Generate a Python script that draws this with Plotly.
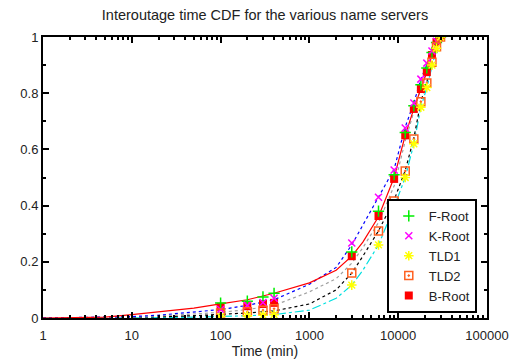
import plotly.graph_objects as go

# ---- data ----
marker_t_low = [100, 200, 300, 400]
marker_t_high = [3000, 6000, 9000, 12000, 15000, 18000, 21000, 24000, 27000, 30000]
marker_t = marker_t_low + marker_t_high

f_root = [0.053, 0.06, 0.075, 0.088, 0.235, 0.38, 0.51, 0.66, 0.755, 0.83, 0.89, 0.945, 0.98, 1.0]
k_root = [0.03, 0.045, 0.055, 0.07, 0.267, 0.43, 0.527, 0.676, 0.765, 0.85, 0.907, 0.95, 0.985, 1.0]
tld1 = [0.005, 0.008, 0.01, 0.012, 0.117, 0.26, 0.395, 0.50, 0.62, 0.75, 0.82, 0.90, 0.96, 1.0]
tld2 = [0.018, 0.022, 0.028, 0.033, 0.16, 0.31, 0.416, 0.523, 0.637, 0.77, 0.836, 0.91, 0.965, 1.0]
b_root = [0.04, 0.042, 0.05, 0.054, 0.22, 0.363, 0.495, 0.65, 0.744, 0.815, 0.875, 0.936, 0.982, 1.0]

line_t = [1, 5, 10, 20, 50, 100, 200, 400, 1000, 2000, 3000, 4000, 6000, 9000, 12000, 15000, 18000, 21000, 24000, 27000, 30000]
red_line = [0, 0.003, 0.012, 0.022, 0.035, 0.05, 0.065, 0.088, 0.125, 0.17, 0.22, 0.27, 0.36, 0.5, 0.65, 0.745, 0.815, 0.875, 0.936, 0.98, 1.0]
blue_line = [0, 0.002, 0.005, 0.01, 0.02, 0.03, 0.045, 0.065, 0.12, 0.18, 0.26, 0.33, 0.43, 0.53, 0.68, 0.765, 0.85, 0.9, 0.95, 0.985, 1.0]
gray_line = [0, 0.001, 0.003, 0.007, 0.013, 0.02, 0.03, 0.045, 0.093, 0.14, 0.195, 0.25, 0.34, 0.47, 0.63, 0.74, 0.82, 0.88, 0.94, 0.975, 1.0]
black_line = [0, 0.001, 0.002, 0.004, 0.008, 0.012, 0.018, 0.025, 0.05, 0.1, 0.16, 0.22, 0.31, 0.42, 0.525, 0.64, 0.77, 0.84, 0.91, 0.965, 1.0]
cyan_line = [0, 0, 0, 0.001, 0.003, 0.005, 0.008, 0.012, 0.028, 0.07, 0.117, 0.17, 0.26, 0.395, 0.5, 0.62, 0.75, 0.82, 0.9, 0.96, 1.0]

fig = go.Figure()

for ys, col, dash in [
    (cyan_line, "#00e0e0", "dashdot"),
    (black_line, "black", "dot"),
    (gray_line, "#a0a0a0", "dot"),
    (blue_line, "#0000ff", "dot"),
    (red_line, "#ff0000", "solid"),
]:
    fig.add_trace(go.Scatter(x=line_t, y=ys, mode="lines", showlegend=False,
                             line=dict(color=col, width=1.2, dash=dash), hoverinfo="skip"))

series = [
    ("B-Root", b_root, dict(symbol="square", color="#ff0000", size=8), 5),
    ("F-Root", f_root, dict(symbol="cross-thin", color="#00ff00", size=8, line=dict(color="#00ee00", width=1.5)), 1),
    ("K-Root", k_root, dict(symbol="x-thin", color="#ff00ff", size=7, line=dict(color="#ff00ff", width=1.5)), 2),
    ("TLD2", tld2, dict(symbol="square-open-dot", color="#ff6020", size=8, line=dict(color="#ff6020", width=1.5)), 4),
    ("TLD1", tld1, dict(symbol="asterisk-open", color="#ffff00", size=8, line=dict(color="#e8e800", width=1.5)), 3),
]
for name, ys, mk, rank in series:
    fig.add_trace(go.Scatter(x=marker_t, y=ys, mode="markers", name=name, marker=mk, legendrank=rank))

font = dict(family="Liberation Sans, Arial, sans-serif", size=13, color="#222")

fig.update_layout(
    width=511, height=362,
    margin=dict(l=43, r=24, t=37, b=44, autoexpand=False),
    paper_bgcolor="white", plot_bgcolor="white",
    font=font,
    title=dict(text="Interoutage time CDF for the various name servers", x=0.5, xref="paper",
               y=1 - 15 / 362, yref="container", yanchor="middle", font=dict(size=14.5, color="#222")),
    legend=dict(x=0.977, xanchor="right", y=0.018, yanchor="bottom", bordercolor="black", borderwidth=2,
                bgcolor="white", font=dict(size=13, color="#222"), tracegroupgap=0, itemwidth=30),
    showlegend=True,
)
fig.update_xaxes(type="log", range=[0, 5], tickmode="linear", tick0=0, dtick=1, tickformat="d",
                 ticks="inside", ticklen=6, tickwidth=1.5, tickcolor="black", ticklabelstandoff=4,
                 showline=True, linecolor="black", linewidth=2, mirror="allticks",
                 showgrid=False, zeroline=False, automargin=False,
                 minor=dict(ticks="inside", ticklen=3, dtick="D1", tickcolor="black", showgrid=False),
                 title=dict(text="Time (min)", standoff=1, font=dict(size=14, color="#222")))
fig.update_yaxes(range=[0, 1], dtick=0.2, ticks="inside", ticklen=6, tickwidth=1.5, tickcolor="black",
                 showline=True, linecolor="black", linewidth=2, mirror="allticks",
                 showgrid=False, zeroline=False, automargin=False,
                 minor=dict(ticks="inside", ticklen=3, dtick=0.1, tickcolor="black", showgrid=False))

fig.write_html("out.html")
